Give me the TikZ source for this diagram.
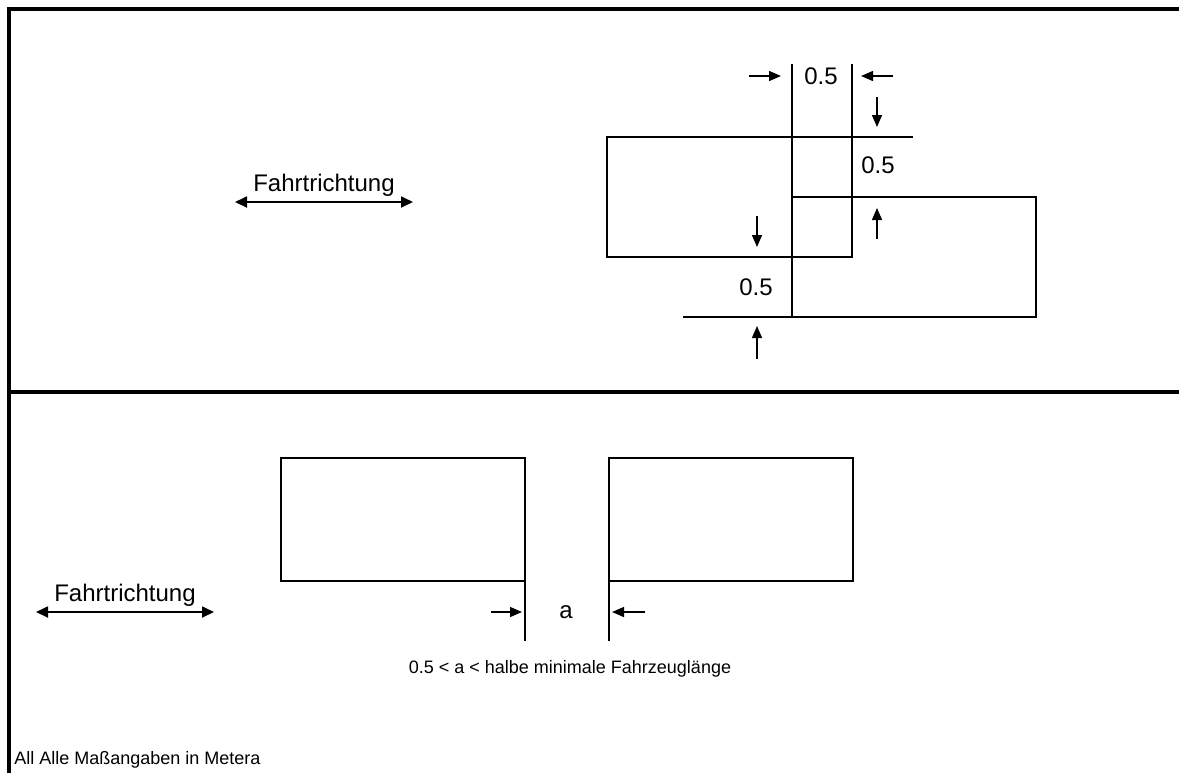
\documentclass[tikz,border=0pt]{standalone}
\usepackage{fontspec}
\setmainfont{Liberation Sans}
\usetikzlibrary{arrows.meta}

\begin{document}
\begin{tikzpicture}[x=0.5pt,y=-0.5pt,
    frame/.style={line width=1.6pt},
    outline/.style={line width=1.3pt},
    dimarrow/.style={line width=0.7pt,-{Triangle[length=6pt,width=5pt]}},
    dirarrow/.style={line width=0.9pt,{Triangle[length=6pt,width=5.5pt]}-{Triangle[length=6pt,width=5.5pt]}},
    small/.style={font=\fontsize{9}{11}\selectfont}]
  \useasboundingbox (0,0) rectangle (1179,773);

  % frame
  \draw[frame] (1179,9) -- (9,9) -- (9,773);
  \draw[frame] (9,392) -- (1179,392);

  \begin{scope}[every node/.style={font=\fontsize{12}{14}\selectfont,inner sep=0pt}]
    % direction of travel
    \coordinate (dirAl) at (235,202);
    \coordinate (dirAr) at (413,202);
    \draw[dirarrow] (dirAl) -- node[above=2.5pt] (dirA) {Fahrtrichtung} (dirAr);
    \coordinate (dirBl) at (36,612);
    \coordinate (dirBr) at (214,612);
    \draw[dirarrow] (dirBl) -- node[above=2.5pt] (dirB) {Fahrtrichtung} (dirBr);

    % upper case: overlapping vehicles
    \draw[outline] (607,137) rectangle (852,257);
    \draw[outline] (792,197) rectangle (1036,317);
    \draw[outline] (792,64) -- (792,317);
    \draw[outline] (852,64) -- (852,137) -- (913,137);
    \draw[outline] (683,317) -- (792,317);

    \node (dimtop) at (821,76) {0.5};
    \node (dimmid) at (878,165) {0.5};
    \node (dimlow) at (756,287) {0.5};

    \draw[dimarrow] (749,76) -- (781,76);
    \draw[dimarrow] (893,76) -- (861,76);
    \draw[dimarrow] (877,97) -- (877,127);
    \draw[dimarrow] (877,239) -- (877,208);
    \draw[dimarrow] (757,216) -- (757,247);
    \draw[dimarrow] (757,359) -- (757,326);

    % lower case: gap a
    \draw[outline] (281,458) rectangle (525,581);
    \draw[outline] (609,458) rectangle (853,581);
    \draw[outline] (525,581) -- (525,641);
    \draw[outline] (609,581) -- (609,641);

    \node (gap) at (566,612) {a};
    \draw[dimarrow] (491,612) -- (522,612);
    \draw[dimarrow] (645,612) -- (612,612);

    \node[small] (rule) at (570,669) {0.5 < a < halbe minimale Fahrzeuglänge};
    \node[small,anchor=base west] (units) at (14,764) {All Alle Maßangaben in Metera};
  \end{scope}
\end{tikzpicture}
\end{document}
